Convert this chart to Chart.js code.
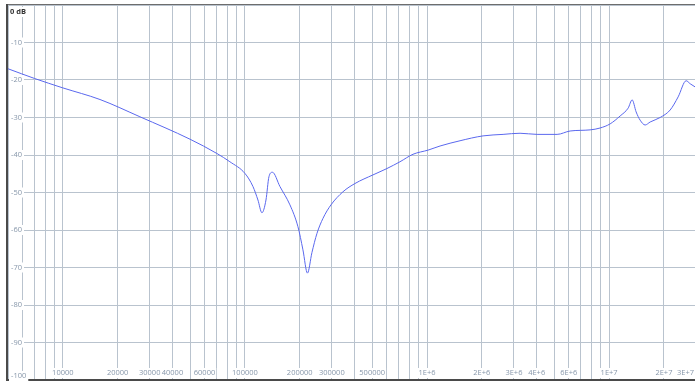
<!DOCTYPE html>
<html>
<head>
<meta charset="utf-8">
<script src="https://cdn.jsdelivr.net/npm/chart.js@4/dist/chart.umd.min.js"></script>
<style>
  html, body { margin: 0; padding: 0; background: #ffffff; overflow: hidden; }
  #wrap { position: absolute; left: 0; top: 0; width: 696px; height: 381px; }
</style>
</head>
<body>
<div id="wrap"><canvas id="c" width="696" height="381"></canvas></div>
<script>
// Frequency response trace (Hz vs dB)
const freqHz = [5000, 7000, 10000, 16000, 26500, 50000, 70200, 82700, 100000, 110700,
  117900, 124000, 130500, 135500, 141600, 155700, 176700, 195500, 208300, 220500,
  233400, 248700, 268300, 296900, 345600, 402200, 505100, 602900, 710600, 837700,
  1013000, 1179000, 1518000, 2031000, 2616000, 3243000, 4022000, 5180000, 6106000, 7865000,
  8923000, 10130000, 11490000, 12720000, 13380000, 14070000, 14800000, 15770000, 16800000, 19060000,
  21640000, 23940000, 26490000, 27870000, 30000000];
const levelDb = [-17.0, -19.6, -22.1, -25.2, -29.8, -35.8, -39.6, -41.8, -44.9, -48.4,
  -52.0, -55.4, -52.0, -45.8, -44.6, -48.4, -53.3, -59.1, -65.3, -71.5,
  -66.0, -60.9, -56.9, -53.3, -49.8, -47.6, -45.3, -43.6, -41.8, -39.8,
  -38.7, -37.6, -36.2, -34.9, -34.5, -34.2, -34.5, -34.5, -33.6, -33.3,
  -32.8, -31.7, -29.6, -27.5, -25.3, -28.5, -30.7, -32.0, -31.2, -30.0,
  -28.0, -24.5, -20.2, -21.0, -22.0];

// Labelled frequency ticks
const xTickValues = [10000, 20000, 30000, 40000, 60000, 100000, 200000, 300000, 500000,
  1e6, 2e6, 3e6, 4e6, 6e6, 1e7, 2e7, 3e7];
const xTickLabels = ['10000', '20000', '30000', '40000', '60000', '100000', '200000', '300000', '500000',
  '1E+6', '2E+6', '3E+6', '4E+6', '6E+6', '1E+7', '2E+7', '3E+7'];

// Level ticks
const yTickValues = [0, -10, -20, -30, -40, -50, -60, -70, -80, -90, -100];
const yTickLabels = ['0 dB', '-10', '-20', '-30', '-40', '-50', '-60', '-70', '-80', '-90', '-100'];

const F_MIN = 5000, F_MAX = 30000000;
const GRID = '#b9c3ce';
const LABEL = '#8797aa';
const FONT = '7.5px "Open Sans", sans-serif';

// vertical grid at every 1..9 x 10^k inside the range
function logGridValues(lo, hi) {
  const out = [];
  for (let k = 3; k <= 8; k++) {
    for (let n = 1; n <= 9; n++) {
      const v = n * Math.pow(10, k);
      if (v >= lo && v <= hi) out.push(v);
    }
  }
  return out;
}

const labelPlugin = {
  id: 'axisLabels',
  afterDraw(chart) {
    const ctx = chart.ctx;
    const xs = chart.scales.x, ys = chart.scales.y;
    const area = chart.chartArea;
    ctx.save();

    // frame
    ctx.fillStyle = '#6d6d6d';
    ctx.fillRect(7, 4, 689, 1);
    ctx.fillStyle = '#4a4a4a';
    ctx.fillRect(6, 4, 2, 377);
    ctx.fillRect(6, 379, 690, 2);

    ctx.font = FONT;
    ctx.textBaseline = 'middle';

    // frequency labels along the bottom, inside the plot
    const ly = 373;
    xTickValues.forEach((v, i) => {
      const t = xTickLabels[i];
      const w = ctx.measureText(t).width;
      let cx = xs.getPixelForValue(v);
      let left = cx - w / 2;
      if (left + w > 694) left = 694 - w;
      ctx.fillStyle = '#ffffff';
      ctx.fillRect(left - 1, ly - 5, w + 2, 10);
      ctx.fillStyle = LABEL;
      ctx.textAlign = 'left';
      ctx.fillText(t, left, ly);
    });

    // level labels along the left edge, inside the plot
    yTickValues.forEach((v, i) => {
      const t = yTickLabels[i];
      ctx.textAlign = 'left';
      if (i === 0) {
        ctx.font = 'bold 7.5px "Open Sans", sans-serif';
        const w = ctx.measureText(t).width;
        ctx.fillStyle = '#ffffff';
        ctx.fillRect(9, 7, w + 2, 10);
        ctx.fillStyle = '#333333';
        ctx.fillText(t, 10, 12);
        ctx.font = FONT;
        return;
      }
      const py = ys.getPixelForValue(v) - (v === -100 ? 4 : 0);
      const w = ctx.measureText(t).width;
      ctx.fillStyle = '#ffffff';
      ctx.fillRect(9, py - 5, Math.max(w + 4, 15), 10);
      ctx.fillStyle = LABEL;
      ctx.fillText(t, 11, py);
    });
    ctx.restore();
  }
};

new Chart(document.getElementById('c'), {
  type: 'line',
  data: {
    datasets: [{
      data: freqHz.map((f, i) => ({ x: f, y: levelDb[i] })),
      borderColor: '#5a68ee',
      borderWidth: 1,
      pointRadius: 0,
      fill: false,
      cubicInterpolationMode: 'monotone'
    }]
  },
  options: {
    responsive: false,
    animation: false,
    events: [],
    layout: { padding: { left: 8, top: 5, right: 0, bottom: 1 } },
    plugins: { legend: { display: false }, tooltip: { enabled: false } },
    scales: {
      x: {
        type: 'logarithmic',
        min: F_MIN,
        max: F_MAX,
        afterBuildTicks(scale) {
          scale.ticks = logGridValues(F_MIN, F_MAX).map(v => ({ value: v }));
        },
        ticks: { display: false },
        grid: { color: GRID, lineWidth: 1, drawTicks: false },
        border: { display: false }
      },
      y: {
        min: -100,
        max: 0,
        ticks: { display: false, stepSize: 10 },
        grid: { color: GRID, lineWidth: 1, drawTicks: false },
        border: { display: false }
      }
    }
  },
  plugins: [labelPlugin]
});
</script>
</body>
</html>
